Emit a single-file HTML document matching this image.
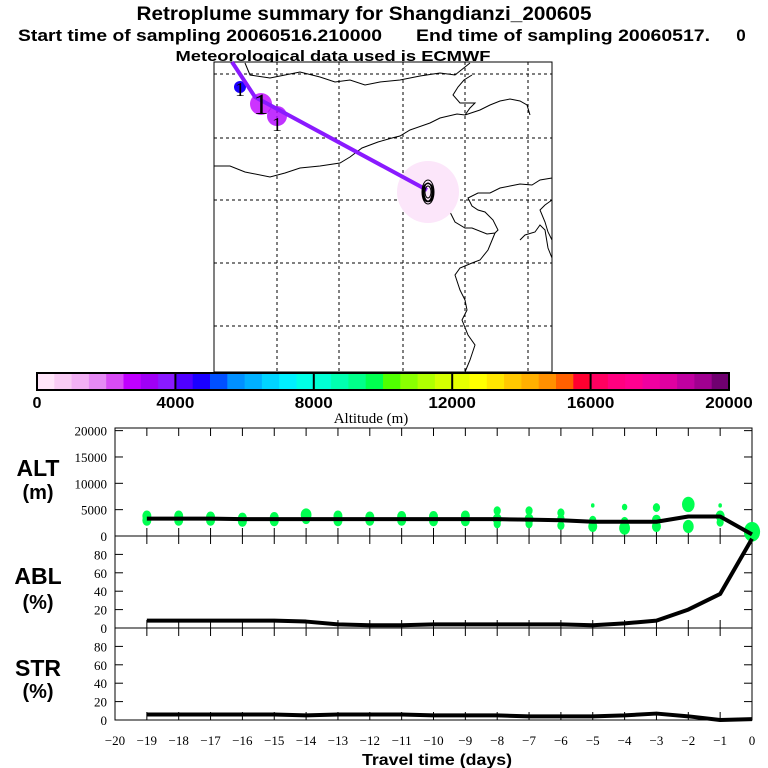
<!DOCTYPE html>
<html><head><meta charset="utf-8"><style>
body{margin:0;background:#fff}
svg{display:block;font-family:"Liberation Sans",sans-serif}
</style></head><body>
<svg id="chart" width="768" height="768" viewBox="0 0 768 768" xmlns="http://www.w3.org/2000/svg">
<g font-weight="bold" text-anchor="middle">
<text x="364" y="20" font-size="19" textLength="455" lengthAdjust="spacingAndGlyphs">Retroplume summary for Shangdianzi_200605</text>
<text x="200" y="41" font-size="17" textLength="364" lengthAdjust="spacingAndGlyphs">Start time of sampling 20060516.210000</text>
<text x="563" y="41" font-size="17" textLength="294" lengthAdjust="spacingAndGlyphs">End time of sampling 20060517.</text>
<text x="741" y="41" font-size="17">0</text>
<text x="333" y="61" font-size="15" textLength="315" lengthAdjust="spacingAndGlyphs">Meteorological data used is ECMWF</text>
</g>
<g id="map"></g>
<g id="cbar"></g>
<g id="panels"></g>
</svg>
<script>
// ---- data ----
const days = [-19,-18,-17,-16,-15,-14,-13,-12,-11,-10,-9,-8,-7,-6,-5,-4,-3,-2,-1,0];
const altMean = [3300,3300,3300,3200,3200,3200,3200,3200,3200,3200,3200,3200,3100,3000,2700,2700,2700,3700,3700,300];
const ablPct = [8,8,8,8,8,7,4,3,3,4,4,4,4,4,3,5,8,20,37,97];
const strPct = [6,6,6,6,6,5,6,6,6,5,5,5,4,4,4,5,7,4,0,1];
const dotDays = [-19,-19,-18,-18,-17,-17,-16,-16,-15,-15,-14,-14,-13,-13,-12,-12,-11,-11,-10,-10,-9,-9,-8,-8,-8,-7,-7,-7,-6,-6,-6,-5,-5,-5,-4,-4,-4,-3,-3,-3,-2,-2,-1,-1,-1,0];
const dotAlts = [3800,3000,3800,3000,3600,3000,3400,2800,3500,2900,4000,3300,3800,2900,3600,3000,3700,3000,3700,2900,3800,2900,4800,3200,2300,4800,3200,2300,4400,3300,2000,5800,3000,1800,5500,2800,1500,5400,3000,1800,6000,1800,5800,3800,2600,800];
const dotR = [5,5,5,5,5,5,5,5,5,5,6,5,5,5,5,5,5,5,5,5,5,5,4,5,4,4,5,4,4,4,4,2,4,5,3,4,6,4,5,5,7,6,2,5,4,9];
const cbColors = ["#ffe6fa","#f9ccf5","#f2b0f5","#e68af5","#d84cf5","#c000ff","#a000f5","#8a1aff","#5000ff","#1a00ff","#0050ff","#0090ff","#00b0ff","#00d4ff","#00f0ff","#00ffe6","#00ffd4","#00ffb0","#00ff8a","#00ff50","#50ff00","#8aff00","#b0ff00","#d4ff00","#e6ff00","#ffff00","#ffe600","#ffc800","#ffb000","#ff9000","#ff6000","#ff0030","#ff0060","#ff0080","#ff0090","#f000a0","#e000a0","#c000a0","#a00090","#700070"];
const cbTicks = [0,4000,8000,12000,16000,20000];
const xTicks = [-20,-19,-18,-17,-16,-15,-14,-13,-12,-11,-10,-9,-8,-7,-6,-5,-4,-3,-2,-1,0];
const altTicks = [0,5000,10000,15000,20000];
const pctTicks = [0,20,40,60,80];

const NS="http://www.w3.org/2000/svg";
function mk(parent,tag,attrs){const e=document.createElementNS(NS,tag);for(const k in attrs)e.setAttribute(k,attrs[k]);parent.appendChild(e);return e;}

// ---- map ----
const map=document.getElementById('map');
const mapFrame=mk(map,'rect',{x:214,y:62,width:338,height:310,fill:'#fff',stroke:'#000','stroke-width':1});


[277,339,403,465,528].forEach(x=>{const l=mk(map,'line',{x1:x,y1:62,x2:x,y2:372,stroke:'#000','stroke-dasharray':'3,3','stroke-width':1});

});
[74,138,200,263,326].forEach(y=>{const l=mk(map,'line',{x1:214,y1:y,x2:552,y2:y,stroke:'#000','stroke-dasharray':'3,3','stroke-width':1});

});
const coasts=["M245,63 L250,75 L270,78 L300,72 L320,77 L335,82 L350,80 L365,85 L380,82 L400,80 L420,76 L440,73 L455,75 L470,63",
"M214,166 L230,166 L245,172 L270,177 L285,173 L300,168 L320,166 L340,163 L350,157 L362,148 L378,142 L392,138 L400,136 L410,130 L430,123 L440,118 L457,114 L465,115 L470,108 L475,103 L460,103 L453,95 L458,87 L464,80 L472,75",
"M465,115 L480,110 L490,105 L500,101 L510,99 L520,101 L527,105 L530,115",
"M427,212 L440,210 L450,212 L455,222 L465,228 L472,228 L487,234 L495,233 L498,230 L493,220 L485,212 L478,210 L472,206 L468,198 L478,193 L490,193 L500,188 L510,186 L520,184 L532,185 L540,180 L552,178",
"M495,233 L488,250 L480,260 L472,263 L460,268 L455,275 L460,290 L465,300 L467,310 L462,320 L468,335 L475,345 L470,360 L465,372",
"M552,200 L545,205 L540,210 L545,222 L548,232 L552,240",
"M520,240 L525,235 L535,232 L540,225 L545,230 L548,248 L552,258"];
coasts.forEach(d=>{const p=mk(map,'path',{d:d,fill:'none',stroke:'#000','stroke-width':1});

});
const plume=mk(map,'circle',{cx:428,cy:192,r:31,fill:'#fce6fa'});


const c1=mk(map,'circle',{cx:261,cy:104,r:11,fill:'#c000ff',opacity:0.8});


const c2=mk(map,'circle',{cx:277,cy:116,r:10,fill:'#b000ff',opacity:0.8});


const c3=mk(map,'circle',{cx:240,cy:87,r:6,fill:'#1a00ff'});


const traj=mk(map,'polyline',{points:'232,62 255,97 427,190',fill:'none',stroke:'#8a1aff','stroke-width':4});


[[428,192,6,12],[428,192,4,9],[428,192,3,6]].forEach(a=>{const e=mk(map,'ellipse',{cx:a[0],cy:a[1],rx:a[2],ry:a[3],fill:'none',stroke:'#000','stroke-width':1});

});
[[240,96,'1',20],[261,114,'1',30],[277,131,'1',20],[428,202,'0',28]].forEach(a=>{const t=mk(map,'text',{x:a[0],y:a[1],'text-anchor':'middle','font-size':a[3],'font-family':'Liberation Serif,serif'});t.textContent=a[2];

});

// ---- colorbar ----
const cb=document.getElementById('cbar');
const cbX0=37,cbX1=729,cbY=373,cbH=17;
const cbw=(cbX1-cbX0)/cbColors.length;
cbColors.forEach((c,i)=>{const r=mk(cb,'rect',{x:cbX0+i*cbw,y:cbY,width:cbw+0.5,height:cbH,fill:c});

});
const cbF=mk(cb,'rect',{x:cbX0,y:cbY,width:cbX1-cbX0,height:cbH,fill:'none',stroke:'#000','stroke-width':2});


cbTicks.forEach(v=>{const x=cbX0+(v/20000)*(cbX1-cbX0);
const l=mk(cb,'line',{x1:x,y1:cbY,x2:x,y2:cbY+cbH,stroke:'#000','stroke-width':2});


const t=mk(cb,'text',{x:x,y:cbY+35,'text-anchor':'middle','font-size':16,'font-weight':'bold',textLength:v?String(v).length*9.5:9,lengthAdjust:'spacingAndGlyphs'});t.textContent=v;

});
const cbt=mk(cb,'text',{x:371,y:423,'text-anchor':'middle','font-size':15,'font-family':'Liberation Serif,serif'});cbt.textContent='Altitude (m)';



// ---- panels ----
const P=document.getElementById('panels');
const X0=115,X1=752;
const xs=d=>X0+(d+20)/20*(X1-X0);
const panels=[
 {name:'alt',top:428,bot:536,max:20500,ticks:altTicks,label:['ALT','(m)'],ly:[476,499]},
 {name:'abl',top:536,bot:628,max:100,ticks:pctTicks,label:['ABL','(%)'],ly:[584,609]},
 {name:'str',top:628,bot:720,max:100,ticks:pctTicks,label:['STR','(%)'],ly:[676,698]}];
panels.forEach(p=>{
 p.y=v=>p.bot-v/p.max*(p.bot-p.top);
 const f=mk(P,'rect',{x:X0,y:p.top,width:X1-X0,height:p.bot-p.top,fill:'none',stroke:'#000','stroke-width':1});
 
 
 xTicks.forEach(d=>{const x=xs(d);
  const a=mk(P,'line',{x1:x,y1:p.top,x2:x,y2:p.top+8,stroke:'#000'});
  
  
  const b=mk(P,'line',{x1:x,y1:p.bot,x2:x,y2:p.bot-8,stroke:'#000'});
  
  });
 p.ticks.forEach(v=>{const y=p.y(v);
  const a=mk(P,'line',{x1:X0,y1:y,x2:X0+8,y2:y,stroke:'#000'});
  
  
  const b=mk(P,'line',{x1:X1,y1:y,x2:X1-8,y2:y,stroke:'#000'});
  
  
  const t=mk(P,'text',{x:107,y:y+5,'text-anchor':'end','font-size':13,'font-family':'Liberation Serif,serif'});t.textContent=v;
  
  });
 p.label.forEach((s,i)=>{const t=mk(P,'text',{x:38,y:p.ly[i],'text-anchor':'middle','font-size':i?20:23,'font-weight':'bold'});t.textContent=s;
  
  });
});
// alt dots
dotDays.forEach((d,i)=>{const c=mk(P,'ellipse',{cx:xs(d),cy:panels[0].y(dotAlts[i]),rx:dotR[i]*0.9,ry:dotR[i]*1.1,fill:'#00ff50'});

});
function line(p,vals,name){const pts=days.map((d,i)=>xs(d)+','+p.y(vals[i])).join(' ');
 const l=mk(P,'polyline',{points:pts,fill:'none',stroke:'#000','stroke-width':4,'stroke-linejoin':'round'});
 
 }
line(panels[0],altMean,'mean-altitude-line');
line(panels[1],ablPct,'abl-fraction-line');
line(panels[2],strPct,'stratosphere-fraction-line');
xTicks.forEach(d=>{const t=mk(P,'text',{x:xs(d),y:745,'text-anchor':'middle','font-size':13,'font-family':'Liberation Serif,serif'});t.textContent=d<0?'\u2212'+(-d):d;

});
const xt=mk(P,'text',{x:437,y:765,'text-anchor':'middle','font-size':16,'font-weight':'bold',textLength:150,lengthAdjust:'spacingAndGlyphs'});xt.textContent='Travel time (days)';


</script>
</body></html>
